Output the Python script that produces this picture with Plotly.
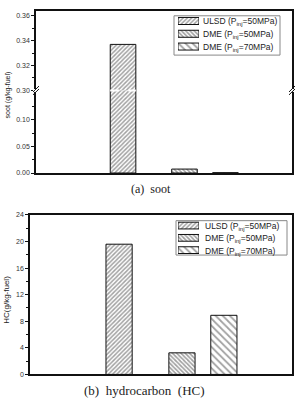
import plotly.graph_objects as go

W, H = 302, 402

# ---- data ----
series = ["ULSD (P<sub>inj</sub>=50MPa)", "DME (P<sub>inj</sub>=50MPa)", "DME (P<sub>inj</sub>=70MPa)"]
xpos = [3.4, 5.8, 7.4]
bar_width = 1.0
soot = [0.337, 0.0074, 0.0006]
hc = [19.6, 3.25, 8.9]
soot_upper_ticks = [0.30, 0.32, 0.34, 0.36]
soot_lower_ticks = [0.00, 0.05, 0.10]
hc_ticks = [0, 4, 8, 12, 16, 20, 24]

patterns = [
    dict(shape="/", size=3, solidity=0.5),
    dict(shape="\\", size=3, solidity=0.55),
    dict(shape="\\", size=5, solidity=0.35),
]

def px_x(p):
    return p / W

def px_y(p):
    return 1 - p / H

# layout geometry (pixels)
top_x0, top_x1 = 36, 292
top_y0, brk, top_y1 = 7, 88, 172
bot_x0, bot_x1 = 30, 292
bot_y0, bot_y1 = 214.7, 377

fig = go.Figure()

def marker(i):
    return dict(color="white", line=dict(color="#111", width=1),
                pattern=dict(fgcolor="#444", bgcolor="white", fillmode="overlay", **patterns[i]))

# top chart: upper segment (only ULSD reaches it)
fig.add_trace(go.Bar(x=[xpos[0]], y=[soot[0]], width=bar_width, marker=marker(0),
                     xaxis="x", yaxis="y", showlegend=False, name=series[0], hoverinfo="skip"))
# top chart: lower segment
for i in range(3):
    fig.add_trace(go.Bar(x=[xpos[i]], y=[soot[i]], width=bar_width, marker=marker(i),
                         xaxis="x2", yaxis="y2", name=series[i], showlegend=False))
# bottom chart
for i in range(3):
    fig.add_trace(go.Bar(x=[xpos[i]], y=[hc[i]], width=bar_width, marker=marker(i),
                         xaxis="x3", yaxis="y3", name=series[i], showlegend=False))

# legend swatches (one row per series) on small helper axes
rows = list(range(len(series)))
for i in rows:
    for xa, ya in (("x4", "y4"), ("x5", "y5")):
        fig.add_trace(go.Bar(y=[len(series) - 1 - i], x=[1], orientation="h", width=0.55,
                             marker=marker(i), xaxis=xa, yaxis=ya, showlegend=False,
                             hoverinfo="skip"))

tickfont = dict(family="Arial, Liberation Sans", size=7, color="#333")
common_y = dict(showline=True, linecolor="#111", linewidth=1.5, mirror=True, ticks="outside",
                ticklen=3, tickcolor="#111", tickfont=tickfont, showgrid=False, zeroline=False)
hidden = dict(visible=False, showgrid=False, zeroline=False, fixedrange=True)

# legend geometry (pixels)
lg1 = dict(box=(174, 280, 12, 52), sw=(178, 199), rows=(17.3, 43.3), tx=201)
lg2 = dict(box=(176, 287, 220.5, 255.5), sw=(178, 199), rows=(225.5, 250.5), tx=203)

def leg_axes(lg):
    r0, r1 = lg["rows"]
    step = (r1 - r0) / (len(series) - 1)
    xd = [px_x(lg["sw"][0]), px_x(lg["sw"][1])]
    yd = [px_y(r1 + step / 2), px_y(r0 - step / 2)]
    return xd, yd, step

xd4, yd4, st1 = leg_axes(lg1)
xd5, yd5, st2 = leg_axes(lg2)

fig.update_layout(
    width=W, height=H, margin=dict(l=0, r=0, t=0, b=0),
    paper_bgcolor="white", plot_bgcolor="rgba(0,0,0,0)",
    barmode="overlay", showlegend=False,
    xaxis=dict(domain=[px_x(top_x0), px_x(top_x1)], range=[0, 10], showticklabels=False, ticks="",
               showline=True, linecolor="#111", linewidth=1.5, side="top", anchor="y",
               showgrid=False, zeroline=False),
    yaxis=dict(domain=[px_y(brk), px_y(top_y0)], range=[0.2999, 0.364], tickvals=soot_upper_ticks,
               tickformat=".2f", minor=dict(ticks="outside", ticklen=2, tickvals=[0.31, 0.33, 0.35], tickcolor="#111"),
               anchor="x", **common_y),
    xaxis2=dict(domain=[px_x(top_x0), px_x(top_x1)], range=[0, 10], showticklabels=False, ticks="",
                showline=True, linecolor="#111", linewidth=1.5, anchor="y2",
                showgrid=False, zeroline=False),
    yaxis2=dict(domain=[px_y(top_y1), px_y(brk)], range=[0, 0.1556], tickvals=soot_lower_ticks,
                tickformat=".2f", minor=dict(ticks="outside", ticklen=2, tickvals=[0.025, 0.075, 0.125], tickcolor="#111"),
                anchor="x2", **common_y),
    xaxis3=dict(domain=[px_x(bot_x0), px_x(bot_x1)], range=[0, 10], showticklabels=False, ticks="",
                showline=True, linecolor="#111", linewidth=1.5, mirror=True, anchor="y3",
                showgrid=False, zeroline=False),
    yaxis3=dict(domain=[px_y(bot_y1), px_y(bot_y0)], range=[0, 24], tickvals=hc_ticks,
                minor=dict(ticks="outside", ticklen=2, dtick=2, tickcolor="#111"),
                anchor="x3", **common_y),
    xaxis4=dict(domain=xd4, range=[0, 1], anchor="y4", **hidden),
    yaxis4=dict(domain=yd4, range=[-0.5, len(series) - 0.5], anchor="x4", **hidden),
    xaxis5=dict(domain=xd5, range=[0, 1], anchor="y5", **hidden),
    yaxis5=dict(domain=yd5, range=[-0.5, len(series) - 0.5], anchor="x5", **hidden),
)

# legend boxes and labels
legfont = dict(family="Arial, Liberation Sans", size=8.5, color="#222")
for lg, st in ((lg1, st1), (lg2, st2)):
    x0, x1, y0, y1 = lg["box"]
    fig.add_shape(type="rect", xref="paper", yref="paper",
                  x0=px_x(x0), x1=px_x(x1), y0=px_y(y1), y1=px_y(y0),
                  fillcolor="white", line=dict(color="#888", width=1), layer="below")
    for i, name in enumerate(series):
        fig.add_annotation(text=name, x=px_x(lg["tx"]), y=px_y(lg["rows"][0] + i * st + 1),
                           xref="paper", yref="paper", xanchor="left", yanchor="middle",
                           showarrow=False, font=legfont)

# axis titles and captions
fig.add_annotation(text="soot (g/kg-fuel)", x=px_x(8), y=px_y(93), xref="paper", yref="paper",
                   xanchor="center", yanchor="middle",
                   textangle=-90, showarrow=False, font=dict(family="Arial, Liberation Sans", size=7, color="#222"))
fig.add_annotation(text="HC(g/kg-fuel)", x=px_x(7), y=px_y(301), xref="paper", yref="paper",
                   xanchor="center", yanchor="middle",
                   textangle=-90, showarrow=False, font=dict(family="Arial, Liberation Sans", size=8, color="#222"))
fig.add_annotation(text="(a)  soot", x=px_x(150.5), y=px_y(188), xref="paper", yref="paper",
                   xanchor="center", yanchor="middle",
                   showarrow=False, font=dict(family="Liberation Serif, Times New Roman", size=12, color="#222"))
fig.add_annotation(text="(b)  hydrocarbon  (HC)", x=px_x(144.5), y=px_y(393), xref="paper", yref="paper",
                   xanchor="center", yanchor="middle",
                   showarrow=False, font=dict(family="Liberation Serif, Times New Roman", size=13, color="#222"))

# axis break: white gap + "//" marks on both sides, and white dashed line across the broken bar
for xb in (top_x0, top_x1):
    fig.add_shape(type="rect", xref="paper", yref="paper",
                  x0=px_x(xb - 3), x1=px_x(xb + 3), y0=px_y(brk + 1.5), y1=px_y(brk - 1.5),
                  fillcolor="white", line=dict(width=0), layer="above")
    for dy in (-1.5, 1.5):
        fig.add_shape(type="line", xref="paper", yref="paper",
                      x0=px_x(xb - 3), y0=px_y(brk + dy + 3), x1=px_x(xb + 3), y1=px_y(brk + dy - 3),
                      line=dict(color="#111", width=1), layer="above")
fig.add_shape(type="line", xref="x2", yref="paper",
              x0=xpos[0] - bar_width / 2, x1=xpos[0] + bar_width / 2, y0=px_y(brk), y1=px_y(brk),
              line=dict(color="white", width=2, dash="dash"), layer="above")

fig.write_html("out.html")
